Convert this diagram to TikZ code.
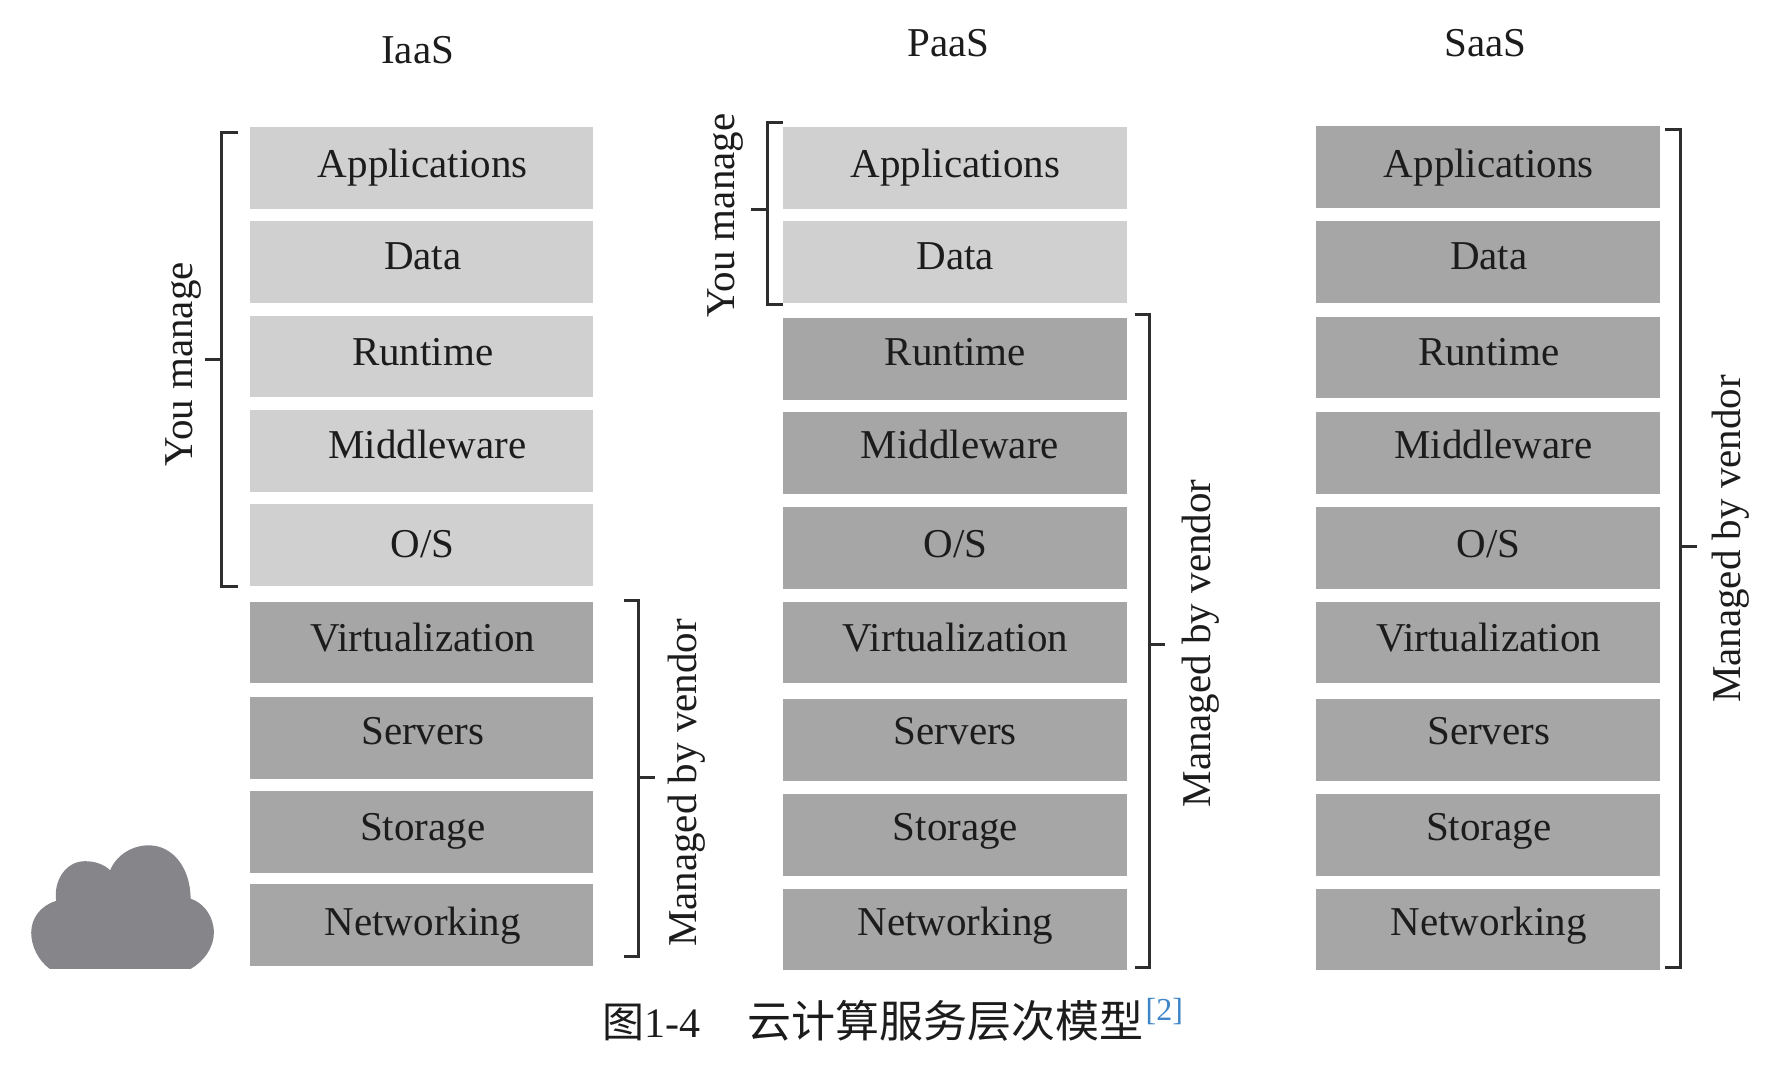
\documentclass[tikz,border=0pt]{standalone}
\usepackage{fontspec}
\setmainfont{Liberation Serif}
\newfontfamily\cjkfont{Noto Sans CJK SC}
\definecolor{lightlayer}{HTML}{D0D0D0}
\definecolor{darklayer}{HTML}{A6A6A6}
\definecolor{cloudgrey}{HTML}{86868A}
\definecolor{inkc}{HTML}{1C1C1C}
\definecolor{bracketc}{HTML}{2E2E2E}
\definecolor{refblue}{HTML}{3F86C8}
\tikzset{
  lightbox/.style={fill=lightlayer,draw=none,minimum width=343.6pt,minimum height=81.7pt,inner sep=0pt,anchor=north west},
  darkbox/.style={fill=darklayer,draw=none,minimum width=343.6pt,minimum height=81.7pt,inner sep=0pt,anchor=north west},
  labeltext/.style={inner sep=0pt,anchor=base,text=inkc,xshift=1.2pt,yshift=-0.6pt,font=\fontsize{41}{45}\selectfont},
  sidetext/.style={inner sep=0pt,anchor=base,rotate=90,text=inkc,xshift=-1.2pt,yshift=-1.2pt,font=\fontsize{41}{45}\selectfont},
  bracketline/.style={draw=bracketc,line width=3pt,line cap=butt,line join=miter},
}
% name, style, left x, top y, text, text x, baseline y
\newcommand{\layerbox}[7]{%
  \node[#2] (#1) at (#3,#4) {};
  \node[labeltext] (#1t) at (#6,#7) {#5};
}
\begin{document}
\begin{tikzpicture}[x=1.1346pt,y=-1.1346pt]
\useasboundingbox[fill=white] (0,0) rectangle (1568.8,946.6);

% headings
\node[labeltext] (hI) at (367,55) {IaaS};
\node[labeltext] (hP) at (835,49) {PaaS};
\node[labeltext] (hS) at (1308,49) {SaaS};

% IaaS
\layerbox{ia}{lightbox}{220}{112}{Applications}{371.5}{156}
\layerbox{id}{lightbox}{220}{195}{Data}{371.5}{237}
\layerbox{ir}{lightbox}{220}{278}{Runtime}{371.5}{322}
\layerbox{im}{lightbox}{220}{361}{Middleware}{375.5}{404}
\layerbox{io}{lightbox}{220}{444}{O/S}{371.5}{491}
\layerbox{iv}{darkbox}{220}{530}{Virtualization}{371.5}{574}
\layerbox{is}{darkbox}{220}{614}{Servers}{371.5}{656}
\layerbox{it}{darkbox}{220}{697}{Storage}{371.5}{740}
\layerbox{in}{darkbox}{220}{779}{Networking}{371.5}{824}

% PaaS
\layerbox{pa}{lightbox}{690}{112}{Applications}{841}{156}
\layerbox{pd}{lightbox}{690}{195}{Data}{841}{237}
\layerbox{pr}{darkbox}{690}{280}{Runtime}{841}{322}
\layerbox{pm}{darkbox}{690}{363}{Middleware}{845}{404}
\layerbox{po}{darkbox}{690}{447}{O/S}{841}{491}
\layerbox{pv}{darkbox}{690}{530}{Virtualization}{841}{574}
\layerbox{ps}{darkbox}{690}{616}{Servers}{841}{656}
\layerbox{pt}{darkbox}{690}{700}{Storage}{841}{740}
\layerbox{pn}{darkbox}{690}{783}{Networking}{841}{824}

% SaaS
\layerbox{sa}{darkbox}{1160}{111}{Applications}{1311}{156}
\layerbox{sd}{darkbox}{1160}{195}{Data}{1311}{237}
\layerbox{sr}{darkbox}{1160}{279}{Runtime}{1311}{322}
\layerbox{sm}{darkbox}{1160}{363}{Middleware}{1315}{404}
\layerbox{so}{darkbox}{1160}{447}{O/S}{1311}{491}
\layerbox{sv}{darkbox}{1160}{530}{Virtualization}{1311}{574}
\layerbox{ss}{darkbox}{1160}{616}{Servers}{1311}{656}
\layerbox{st}{darkbox}{1160}{700}{Storage}{1311}{740}
\layerbox{sn}{darkbox}{1160}{783}{Networking}{1311}{824}

% brackets
\draw[bracketline] (210,117) -- (195,117) -- (195,517) -- (210,517);
\draw[bracketline] (195,317) -- (181,317);
\draw[bracketline] (550,529) -- (563,529) -- (563,843) -- (550,843);
\draw[bracketline] (563,685) -- (577,685);
\draw[bracketline] (690,108) -- (676,108) -- (676,268) -- (690,268);
\draw[bracketline] (676,185) -- (662,185);
\draw[bracketline] (1000,277) -- (1013,277) -- (1013,852.5) -- (1000,852.5);
\draw[bracketline] (1013,568) -- (1027,568);
\draw[bracketline] (1467,114) -- (1481.5,114) -- (1481.5,852.5) -- (1467,852.5);
\draw[bracketline] (1481.5,481.5) -- (1496,481.5);

% side labels
\node[sidetext] (yi) at (169,320) {You manage};
\node[sidetext] (yp) at (646,189) {You manage};
\node[sidetext] (vi) at (613,689) {Managed by vendor};
\node[sidetext] (vp) at (1066,566) {Managed by vendor};
\node[sidetext] (vs) at (1533,474) {Managed by vendor};

% cloud
\fill[cloudgrey] (44,854) .. controls (34,847) and (27.5,834) .. (27.5,822)
  .. controls (27.5,809) and (36,798) .. (49.5,794)
  .. controls (47,776) and (58,759) .. (75,759)
  .. controls (84,759) and (92,762) .. (97,767)
  .. controls (103,753) and (117,745) .. (131,745)
  .. controls (153,745) and (168,766) .. (168,792)
  .. controls (180,796) and (188.5,808) .. (188.5,822)
  .. controls (188.5,835) and (180,847) .. (168,854) -- cycle;

% caption
\node[inner sep=0pt,anchor=base west,text=inkc] (cap) at (531,914.5)
  {\fontsize{42}{45}\selectfont{\cjkfont 图}1-4\hspace{47pt}{\fontsize{44}{46}\selectfont\cjkfont 云计算服务层次模型}\hspace{2pt}\raisebox{17pt}{\fontsize{32}{34}\selectfont\textcolor{refblue}{[2]}}};
\end{tikzpicture}
\end{document}
